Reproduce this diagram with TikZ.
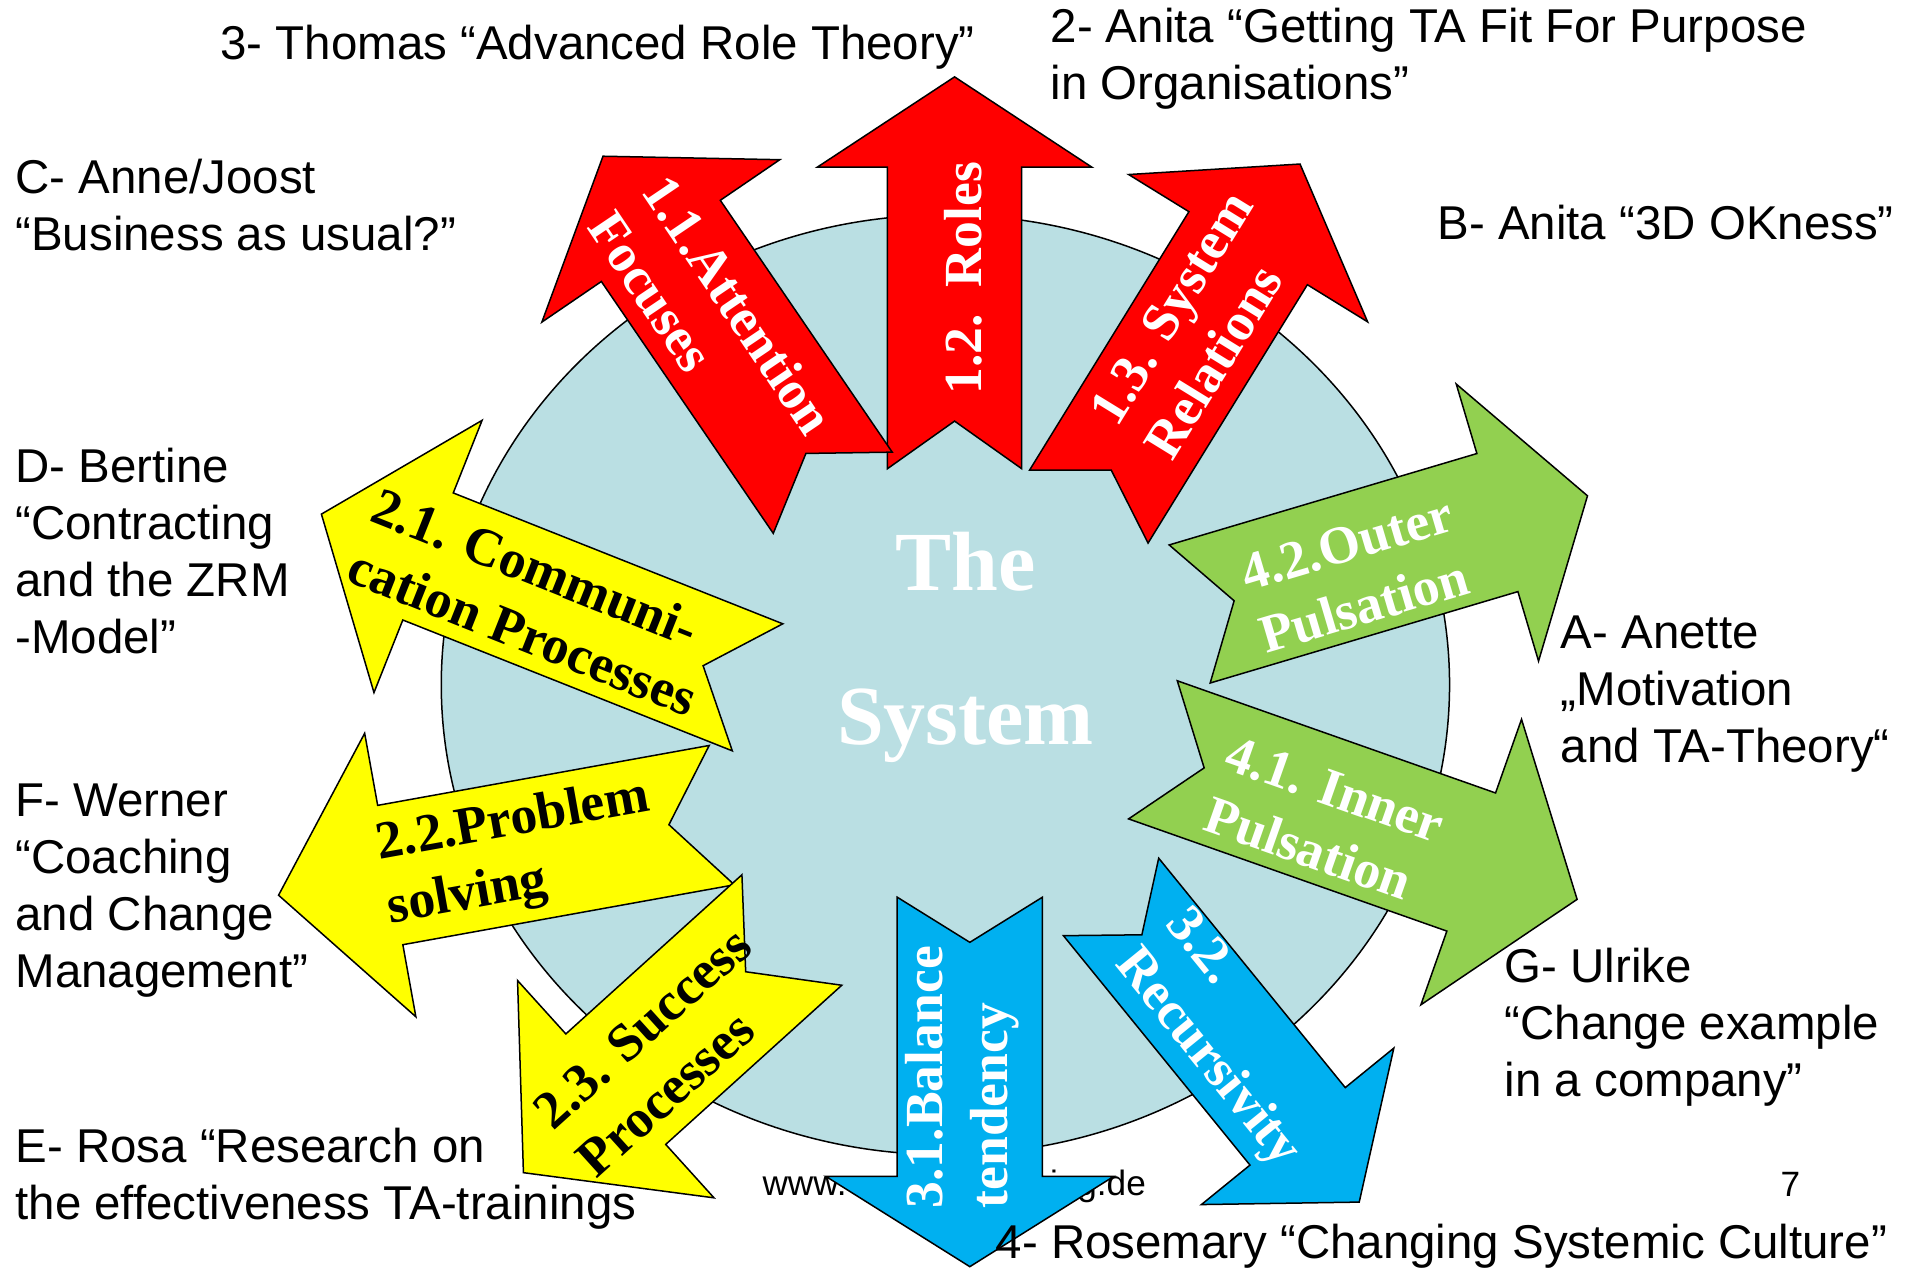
\documentclass[tikz,border=0pt]{standalone}
\usepackage{fontspec}
\setmainfont{Liberation Sans}
\newfontfamily\serifbf{Liberation Serif}
\usepackage{tikz}
\usetikzlibrary{calc}
\definecolor{sysred}{RGB}{255,0,0}
\definecolor{sysyellow}{RGB}{255,255,0}
\definecolor{sysgreen}{RGB}{146,208,80}
\definecolor{sysblue}{RGB}{0,176,240}
\definecolor{syscore}{RGB}{186,223,227}
\tikzset{
 arrowline/.style={draw=black, line width=0.35pt, line join=miter},
 speaker/.style={anchor=base west, inner sep=0pt, align=left, font=\fontsize{11.06}{13.3}\selectfont},
 footer/.style={inner sep=0pt, font=\fontsize{8.2}{10}\selectfont},
 whitelabel/.style={inner sep=0pt, align=left, text=white, font=\serifbf\bfseries\fontsize{12.5}{15.1}\selectfont},
 blacklabel/.style={whitelabel, text=black},
 systemtext/.style={anchor=base, inner sep=0pt, text=white, font=\serifbf\bfseries\fontsize{19.6}{23}\selectfont}
}
% notched block arrow: colour, tip, tail centre, head length, half head width, half shaft width, notch depth
\newcommand{\notcharrow}[7]{
 \coordinate (#2-h) at ($ (#2)!#4!(#3) $);
 \coordinate (#2-n) at ($ (#3)!#7!(#2) $);
 \draw[arrowline, fill=#1] (#2) -- ($ (#2-h)!#5!90:(#2) $) -- ($ (#2-h)!#6!90:(#2) $) -- ($ (#3)!#6!90:(#2) $) -- (#2-n) -- ($ (#3)!#6!-90:(#2) $) -- ($ (#2-h)!#6!-90:(#2) $) -- ($ (#2-h)!#5!-90:(#2) $) -- cycle;
}
\begin{document}
\begin{tikzpicture}
 \useasboundingbox (0,0) rectangle (15.68,10.40);
%
 \fill[syscore, draw=black, line width=0.35pt] (7.745,4.79) ellipse (4.13 and 3.85);
 \node[systemtext] (sysThe) at (7.91,5.56) {The};
 \node[systemtext] (sysName) at (7.91,4.297) {System};
%
 \node[footer, anchor=base west] (www) at (6.24,0.61) {www.};
 \node[footer, anchor=base east] (wwwend) at (9.394,0.61) {ing.de};
 \node[footer, anchor=base west] (page) at (14.58,0.60) {7};
%
 \coordinate (a11) at (4.94,9.12);    \coordinate (t11) at (6.822,6.363);
 \coordinate (a12) at (7.82,9.77);    \coordinate (t12) at (7.82,6.56);
 \coordinate (a13) at (10.65,9.056);  \coordinate (t13) at (8.92,6.25);
 \coordinate (a21) at (2.633,6.188);  \coordinate (t21) at (6.206,4.769);
 \coordinate (a22) at (2.282,3.066);  \coordinate (t22) at (5.913,3.722);
 \coordinate (a23) at (4.288,0.793);  \coordinate (t23) at (6.487,2.781);
 \coordinate (a31) at (7.945,0.023);  \coordinate (t31) at (7.945,3.05);
 \coordinate (a32) at (11.135,0.552); \coordinate (t32) at (9.102,3.052);
 \coordinate (a41) at (12.92,3.032);  \coordinate (t41) at (9.445,4.257);
 \coordinate (a42) at (13.005,6.338); \coordinate (t42) at (9.746,5.37);
%
 \notcharrow{sysred}{a12}{t12}{0.74cm}{1.125cm}{0.55cm}{0.39cm}
 \notcharrow{sysred}{a11}{t11}{0.84cm}{1.18cm}{0.59cm}{0.39cm}
 \notcharrow{sysred}{a13}{t13}{0.81cm}{1.15cm}{0.57cm}{0.35cm}
 \notcharrow{sysyellow}{a21}{t21}{0.94cm}{1.20cm}{0.56cm}{0.48cm}
 \notcharrow{sysyellow}{a22}{t22}{0.93cm}{1.18cm}{0.58cm}{0.44cm}
 \notcharrow{sysyellow}{a23}{t23}{1.02cm}{1.20cm}{0.61cm}{0.51cm}
 \notcharrow{sysblue}{a31}{t31}{0.74cm}{1.18cm}{0.595cm}{0.37cm}
 \notcharrow{sysblue}{a32}{t32}{0.80cm}{1.016cm}{0.503cm}{0.40cm}
 \notcharrow{sysgreen}{a41}{t41}{0.92cm}{1.24cm}{0.60cm}{0.445cm}
 \notcharrow{sysgreen}{a42}{t42}{0.77cm}{1.184cm}{0.59cm}{0.38cm}
%
 \node[whitelabel, rotate=-56] (lab11) at (5.83,7.755) {1.1.Attention\\Focuses};
 \node[whitelabel, rotate=90] (lab12) at (7.89,8.12) {1.2.\ \ Roles};
 \node[whitelabel, rotate=58.4] (lab13) at (9.82,7.74) {1.3. System\\Relations};
 \node[blacklabel, rotate=-21.7] (lab21) at (4.38,5.47) {2.1. Communi-\\cation Processes};
 \node[blacklabel, rotate=10.2] (lab22) at (4.25,3.40) {2.2.Problem\\solving};
 \node[blacklabel, rotate=42.1] (lab23) at (5.44,1.782) {2.3. Success\\Processes};
 \node[whitelabel, rotate=90] (lab31) at (7.88,1.575) {3.1.Balance\\tendency};
 \node[whitelabel, rotate=-50.9] (lab32) at (10.088,1.891) {3.2.\\Recursivity};
 \node[whitelabel, rotate=-19.4] (lab41) at (10.85,3.68) {4.1. Inner\\Pulsation};
 \node[whitelabel, rotate=16.5] (lab42) at (11.11,5.69) {4.2.Outer\\Pulsation};
%
% multi-line texts sit on the baseline of their last line
 \node[speaker] (thomas) at (1.80,9.91) {3- Thomas “Advanced Role Theory”};
 \node[speaker] (anitafit) at (8.60,9.582) {2- Anita “Getting TA Fit For Purpose\\in Organisations”};
 \node[speaker] (annejoost) at (0.12,8.344) {C- Anne/Joost\\“Business as usual?”};
 \node[speaker] (anitaok) at (11.77,8.44) {B- Anita “3D OKness”};
 \node[speaker] (bertine) at (0.12,5.045) {D- Bertine\\“Contracting\\and the ZRM\\-Model”};
 \node[speaker] (anette) at (12.78,4.152) {A- Anette\\„Motivation\\and TA-Theory“};
 \node[speaker] (werner) at (0.12,2.31) {F- Werner\\“Coaching\\and Change\\Management”};
 \node[speaker] (ulrike) at (12.32,1.42) {G- Ulrike\\“Change example\\in a company”};
 \node[speaker] (rosa) at (0.12,0.408) {E- Rosa “Research on\\the effectiveness TA-trainings};
 \node[speaker] (rosemary) at (8.15,0.092) {4- Rosemary “Changing Systemic Culture”};
\end{tikzpicture}
\end{document}
